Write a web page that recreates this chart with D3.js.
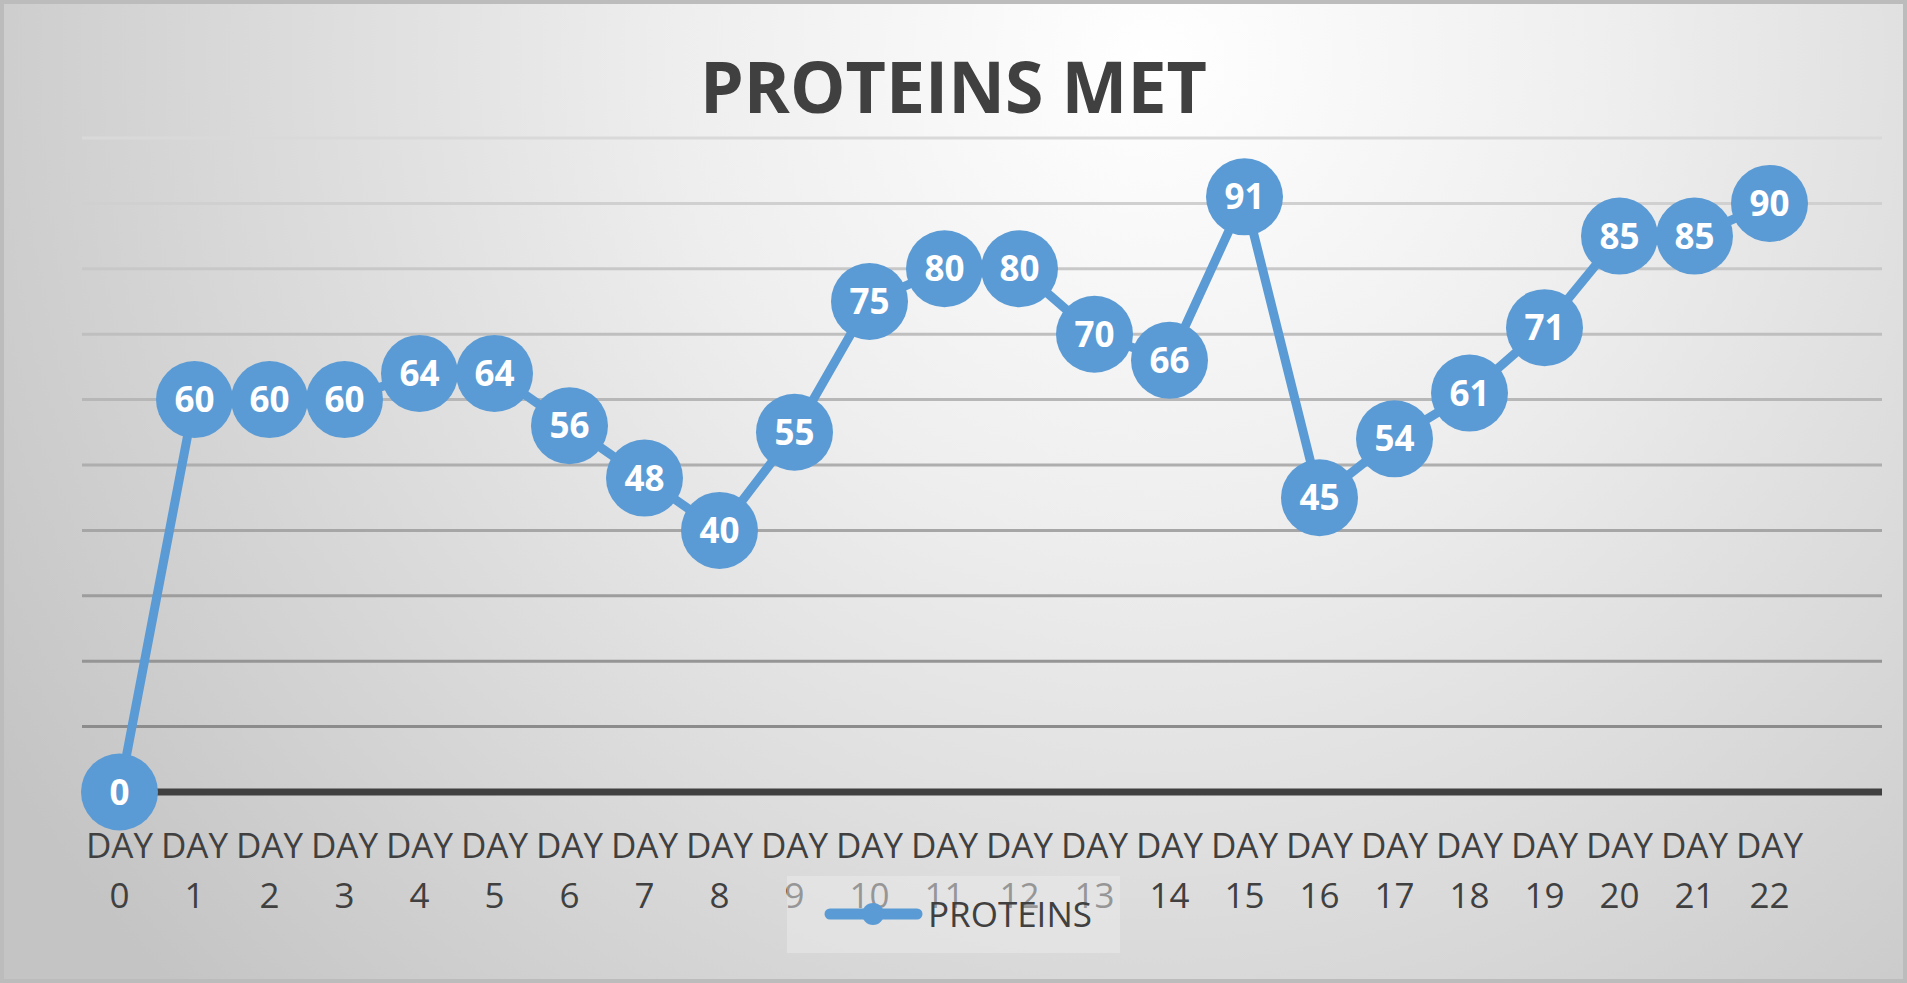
<!DOCTYPE html>
<html>
<head>
<meta charset="utf-8">
<script src="https://cdn.jsdelivr.net/npm/d3@7"></script>
<style>
  html, body { margin: 0; padding: 0; overflow: hidden; }
  svg { display: block; }
  text { font-family: "Open Sans", "Noto Sans", sans-serif; }
</style>
</head>
<body>
<svg id="chart"></svg>
<script>
const days = ['0', '1', '2', '3', '4', '5', '6', '7', '8', '9', '10', '11',
    '12', '13', '14', '15', '16', '17', '18', '19', '20', '21', '22'];
const proteins = [0, 60, 60, 60, 64, 64, 56, 48, 40, 55, 75, 80,
    80, 70, 66, 91, 45, 54, 61, 71, 85, 85, 90];
const gridValues = [10, 20, 30, 40, 50, 60, 70, 80, 90, 100];
const title = 'PROTEINS MET';
const seriesName = 'PROTEINS';

const width = 1907, height = 983;
const blue = '#5b9bd5', ink = '#404040';

const svg = d3.select('#chart')
    .attr('width', width)
    .attr('height', height);

// background
const defs = svg.append('defs');
const bg = defs.append('radialGradient')
    .attr('id', 'bg')
    .attr('gradientUnits', 'userSpaceOnUse')
    .attr('cx', 1150).attr('cy', 60).attr('r', 1350);
bg.append('stop').attr('offset', '0%').attr('stop-color', '#ffffff');
bg.append('stop').attr('offset', '35%').attr('stop-color', '#eeeeee');
bg.append('stop').attr('offset', '100%').attr('stop-color', '#c4c4c4');

svg.append('rect')
    .attr('x', 2).attr('y', 2)
    .attr('width', width - 4).attr('height', height - 4)
    .attr('fill', 'url(#bg)')
    .attr('stroke', '#bcbcbc')
    .attr('stroke-width', 4);

const plotLeft = 82, plotRight = 1882;

const x = d3.scaleBand()
    .domain(days)
    .range([plotLeft, plotLeft + 75 * days.length]);

const y = d3.scaleLinear()
    .domain([0, 100])
    .range([792, 138]);

const gridColor = d3.scaleLinear()
    .domain([10, 100])
    .range(['#8c8c8c', '#d9d9d9']);

// gridlines
svg.append('g')
    .selectAll('line')
    .data(gridValues)
    .enter()
        .append('line')
        .attr('x1', plotLeft)
        .attr('x2', plotRight)
        .attr('y1', d => y(d))
        .attr('y2', d => y(d))
        .attr('stroke', d => gridColor(d))
        .attr('stroke-width', 3);

// baseline
svg.append('line')
    .attr('x1', plotLeft)
    .attr('x2', plotRight)
    .attr('y1', y(0))
    .attr('y2', y(0))
    .attr('stroke', ink)
    .attr('stroke-width', 7);

// category axis labels
const xAxis = svg.append('g')
    .attr('transform', `translate(0,${y(0)})`)
    .call(d3.axisBottom(x).tickSize(0).tickPadding(0));

xAxis.select('.domain').remove();
xAxis.selectAll('.tick text')
    .attr('fill', ink)
    .style('font-size', '35px')
    .attr('y', 0)
    .attr('dy', null)
    .each(function (d) {
        const t = d3.select(this).text('');
        t.append('tspan').attr('x', 0).attr('y', 66).text('DAY');
        t.append('tspan').attr('x', 0).attr('y', 116).text(d);
    });

// title
svg.append('text')
    .attr('x', width / 2)
    .attr('y', 113)
    .attr('text-anchor', 'middle')
    .attr('fill', ink)
    .style('font-size', '71px')
    .style('font-weight', 'bold')
    .attr('textLength', 507)
    .attr('lengthAdjust', 'spacingAndGlyphs')
    .text(title);

// series line
const cx = (d, i) => x(days[i]) + x.bandwidth() / 2;
const line = d3.line()
    .x(cx)
    .y(d => y(d));

svg.append('path')
    .datum(proteins)
    .attr('d', line)
    .attr('fill', 'none')
    .attr('stroke', blue)
    .attr('stroke-width', 9)
    .attr('stroke-linejoin', 'round');

// markers
svg.append('g')
    .selectAll('circle')
    .data(proteins)
    .enter()
        .append('circle')
        .attr('cx', cx)
        .attr('cy', d => y(d))
        .attr('r', 38.5)
        .attr('fill', blue);

// data labels
svg.append('g')
    .selectAll('text')
    .data(proteins)
    .enter()
        .append('text')
        .attr('x', cx)
        .attr('y', d => y(d))
        .attr('dy', '0.36em')
        .attr('text-anchor', 'middle')
        .attr('fill', '#ffffff')
        .style('font-size', '35px')
        .style('font-weight', 'bold')
        .text(d => d);

// legend
const legend = svg.append('g');
legend.append('rect')
    .attr('x', 787).attr('y', 876)
    .attr('width', 333).attr('height', 77)
    .attr('fill', '#ececec')
    .attr('fill-opacity', 0.5);
legend.append('line')
    .attr('x1', 830).attr('x2', 917)
    .attr('y1', 914).attr('y2', 914)
    .attr('stroke', blue)
    .attr('stroke-width', 11)
    .attr('stroke-linecap', 'round');
legend.append('circle')
    .attr('cx', 873).attr('cy', 914)
    .attr('r', 11)
    .attr('fill', blue);
legend.append('text')
    .attr('x', 928).attr('y', 927)
    .attr('fill', ink)
    .style('font-size', '35px')
    .text(seriesName);
</script>
</body>
</html>
